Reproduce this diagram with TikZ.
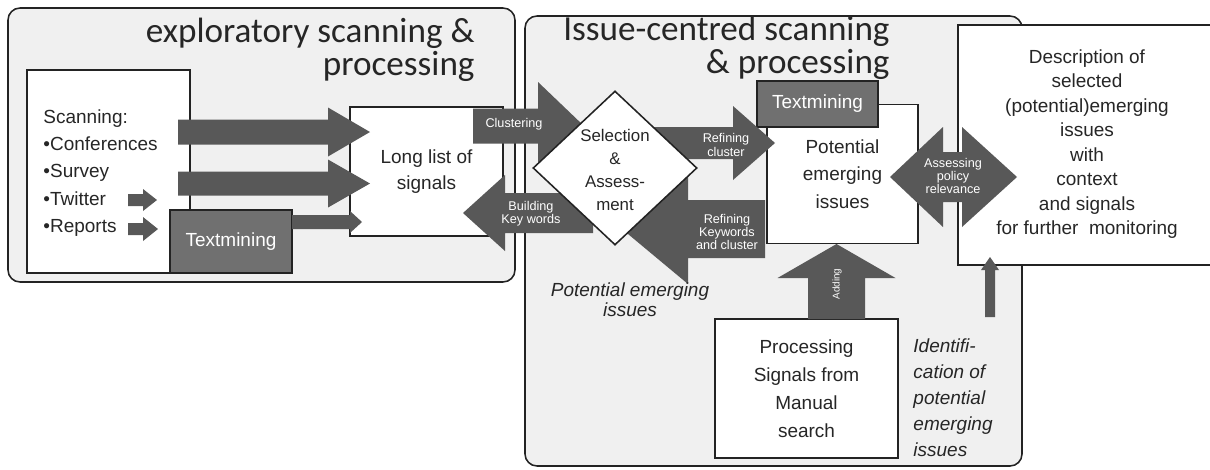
\documentclass[tikz,border=0pt]{standalone}
\usepackage{fontspec}
\setmainfont{Liberation Sans}
\newfontfamily\titlefont{Carlito}
\usetikzlibrary{shapes.geometric}

\definecolor{panelgray}{RGB}{240,240,240}
\definecolor{arrowgray}{RGB}{88,88,88}
\definecolor{tmgray}{RGB}{112,112,112}
\definecolor{edgegray}{RGB}{35,35,35}

% block arrow, left/right: tail x, centre y, head base x, tip x, shaft half, head half
\newcommand{\hblock}[6]{\fill[arrowgray] (#1,#2-#5) -- (#3,#2-#5) -- (#3,#2-#6) -- (#4,#2) -- (#3,#2+#6) -- (#3,#2+#5) -- (#1,#2+#5) -- cycle;}
% block arrow, up/down: centre x, tail y, head base y, tip y, shaft half, head half
\newcommand{\vblock}[6]{\fill[arrowgray] (#1-#5,#2) -- (#1-#5,#3) -- (#1-#6,#3) -- (#1,#4) -- (#1+#6,#3) -- (#1+#5,#3) -- (#1+#5,#2) -- cycle;}

\begin{document}
\begin{tikzpicture}[x=0.025cm, y=-0.025cm, line width=1.1pt,
	panel/.style={draw=edgegray, fill=panelgray, rounded corners=0.3cm},
	box/.style={draw=edgegray, fill=white, inner sep=0pt},
	tmbox/.style={draw=edgegray, fill=tmgray, text=white, inner sep=0pt, font=\fontsize{13.5}{16}\selectfont},
	body/.style={align=center, text=black!85, font=\fontsize{13.5}{17.5}\selectfont},
	lbl/.style={align=center, text=white, font=\fontsize{9}{9.5}\selectfont},
	title/.style={align=right, text=black!85, font=\titlefont\fontsize{25}{23.5}\selectfont}]
	\clip (0,0) rectangle (1210,469);
	\fill[white] (0,0) rectangle (1210,469);

	% the two phases
	\draw[panel] (8,8) rectangle (515,282);
	\draw[panel] (525,16) rectangle (1022,466);
	\node[title, anchor=east] (expl) at (480,50) {exploratory scanning \&\\processing};
	\node[title, anchor=east] (issue) at (895,48) {Issue-centred scanning\\\& processing};

	% exploratory part
	\node[box, minimum width=4.075cm, minimum height=5.075cm] (scan) at (108.5,171.5) {};
	\node[body, align=left, anchor=west, font=\fontsize{13.5}{19.5}\selectfont] (scantxt) at (38,173)
		{Scanning:\\\textbullet Conferences\\\textbullet Survey\\\textbullet Twitter\\\textbullet Reports};
	\node[box, body, minimum width=3.825cm, minimum height=3.225cm, font=\fontsize{13.5}{18.5}\selectfont] (long) at (426.5,171.5) {Long list of\\signals};
	\hblock{178}{132}{328}{370}{12.5}{24.5}
	\hblock{178}{183.5}{328}{370}{12}{24}
	\hblock{128}{200}{143}{157}{6}{11}
	\hblock{128}{229}{143}{158}{6}{12}
	\node[tmbox, minimum width=3.05cm, minimum height=1.575cm] (tm1) at (231,241.5) {Textmining};
	\hblock{292}{222}{350}{362}{7}{11}

	% issue-centred part
	\node[box, body, minimum width=3.775cm, minimum height=3.475cm, font=\fontsize{13.5}{19.5}\selectfont] (pot) at (842.5,174) {Potential\\emerging\\issues};
	\node[tmbox, minimum width=3.025cm, minimum height=1.15cm] (tm2) at (817.5,104) {Textmining};
	\hblock{473}{126}{538}{584}{17.5}{44}
	\hblock{593}{213}{505}{463}{20}{38}
	\hblock{765}{229}{688}{622}{29}{55}
	\hblock{650}{143}{733}{775}{16}{37}
	\node[diamond, draw=edgegray, fill=white, inner sep=0pt, minimum width=4.1cm, minimum height=3.85cm] (sel) at (615,168) {};
	\node[align=center, text=black!85, font=\fontsize{12}{16.5}\selectfont] (seltxt) at (615,170) {Selection\\\&\\Assess-\\ment};
	\node[lbl] (clus) at (514,124) {Clustering};
	\node[lbl] (refc) at (726,145) {Refining\\cluster};
	\node[lbl] (bkw) at (531,214) {Building\\Key words};
	\node[lbl] (refk) at (727,232) {Refining\\Keywords\\and cluster};

	\node[box, body, minimum width=4.575cm, minimum height=3.475cm, font=\fontsize{13.5}{20}\selectfont] (proc) at (806.5,388.5) {Processing\\Signals from\\Manual\\search};
	\vblock{836.5}{319}{278}{244}{28.5}{59}
	\node[lbl, rotate=90, font=\fontsize{7}{7}\selectfont] (add) at (837,284) {Adding};

	\node[body, font=\itshape\fontsize{13.5}{14.5}\selectfont] (pei) at (630,300) {Potential emerging\\issues};
	\node[body, align=left, anchor=west, font=\itshape\fontsize{13.5}{18.5}\selectfont] (ident) at (908,398)
		{Identifi-\\cation of\\potential\\emerging\\issues};

	% outcome
	\node[box, minimum width=6.8cm, minimum height=6cm] (desc) at (1094,145) {};
	\node[body, font=\fontsize{13.5}{17.4}\selectfont] (desctxt) at (1087,144)
		{Description of\\selected\\(potential)emerging\\issues\\with\\context\\and signals\\for further~~monitoring};
	\vblock{990}{317}{270}{257}{5}{9}
	\fill[arrowgray] (890,177) -- (943,127) -- (943,152) -- (962,152) -- (962,127) -- (1017,177)
		-- (962,227) -- (962,202) -- (943,202) -- (943,227) -- cycle;
	\node[lbl] (apr) at (953,176) {Assessing\\policy\\relevance};
\end{tikzpicture}
\end{document}
